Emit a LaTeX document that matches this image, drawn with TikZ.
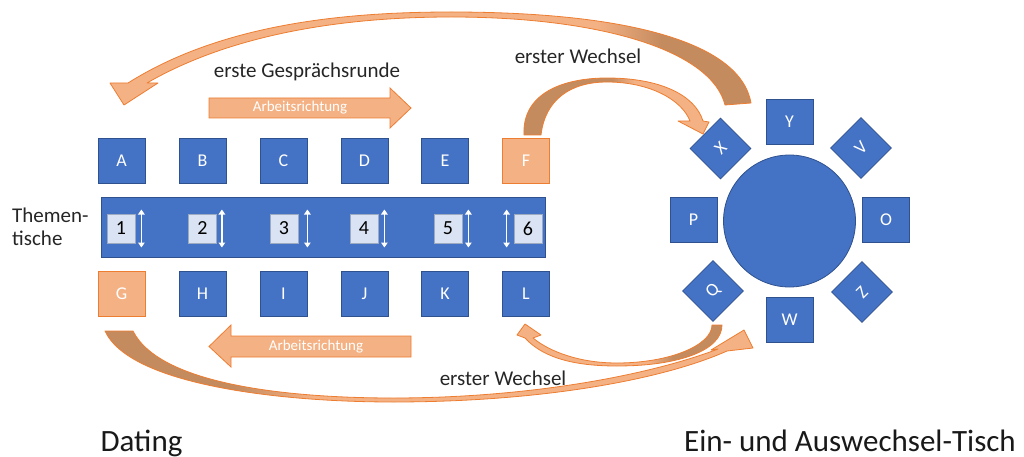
\documentclass[tikz,border=0pt]{standalone}
\usepackage{fontspec}
\setmainfont{Carlito}
\usetikzlibrary{arrows.meta}

\definecolor{seatblue}{HTML}{4472C4}
\definecolor{seatline}{HTML}{2F528F}
\definecolor{peach}{HTML}{F4B183}
\definecolor{peachline}{HTML}{ED7D31}
\definecolor{ribdark}{HTML}{C48B5F}
\definecolor{numfill}{HTML}{DAE3F3}
\definecolor{numline}{HTML}{9DABC0}

% ribbon shadings (the relevant part of each runs from 25bp to 75bp)
\pgfdeclarehorizontalshading{ribTop}{100bp}{color(0bp)=(peach); color(63bp)=(peach); color(68bp)=(ribdark); color(100bp)=(ribdark)}
\pgfdeclarehorizontalshading{ribF}{100bp}{color(0bp)=(ribdark); color(49bp)=(ribdark); color(55bp)=(peach); color(100bp)=(peach)}
\pgfdeclarehorizontalshading{ribQ}{100bp}{color(0bp)=(peach); color(57bp)=(peach); color(63bp)=(ribdark); color(100bp)=(ribdark)}
\pgfdeclarehorizontalshading{ribG}{100bp}{color(0bp)=(ribdark); color(35bp)=(ribdark); color(41bp)=(peach); color(100bp)=(peach)}

\begin{document}
\begin{tikzpicture}[x=1pt,y=-1pt,
  seat/.style={rectangle, draw=seatline, line width=0.8pt, fill=seatblue,
    text=white, font=\fontsize{18}{18}\selectfont, inner sep=0pt,
    minimum width=47pt, minimum height=45pt},
  peachseat/.style={seat, fill=peach, draw=peachline},
  diagseat/.style={seat, minimum width=43pt, minimum height=43pt, rotate=45},
  numbox/.style={rectangle, draw=numline, line width=0.8pt, fill=numfill,
    text=black, font=\fontsize{20}{20}\selectfont, inner sep=0pt,
    minimum width=28pt, minimum height=29pt},
  updown/.style={draw=white, line width=1.6pt,
    {Triangle[width=6.5pt,length=5pt]}-{Triangle[width=6.5pt,length=5pt]}},
  ribbon/.style={draw=peachline, line width=0.8pt, line join=round},
  workarrow/.style={fill=peach, draw=peachline, line width=0.8pt},
  worktext/.style={text=white, font=\fontsize{15}{15}\selectfont, inner sep=0pt},
  lbl/.style={font=\fontsize{21}{24}\selectfont, inner sep=0pt, text=black!85},
  biglbl/.style={font=\fontsize{31}{31}\selectfont, inner sep=0pt, text=black!90}]

\useasboundingbox (0,0) rectangle (1024,457);

% ---- curved change-over arrows ----
% from the round table back to the start of the row
\shadedraw[ribbon, shading=ribTop]
  (128,83) .. controls (220,25) and (340,12) .. (451,12)
  .. controls (620,12) and (740,40) .. (751,103)
  -- (725,105)
  .. controls (712,52) and (605,17) .. (451,17)
  .. controls (340,17) and (230,35) .. (147,83)
  -- (158,83) -- (124,105) -- (110,83) -- cycle;

% from F to the round table
\shadedraw[ribbon, shading=ribF]
  (524,135) .. controls (522,95) and (560,78) .. (607,78)
  .. controls (660,78) and (695,95) .. (703,121)
  -- (709,122) -- (703,134) -- (678,121) -- (690,121)
  .. controls (682,100) and (650,82) .. (607,82)
  .. controls (570,82) and (545,100) .. (541,135) -- cycle;

% from the round table to L
\shadedraw[ribbon, shading=ribQ]
  (722,325) .. controls (722,350) and (680,366) .. (617,366)
  .. controls (580,366) and (545,360) .. (525,338)
  -- (517,335) -- (525,324) -- (541,335) -- (533,338)
  .. controls (550,352) and (580,363) .. (617,363)
  .. controls (670,363) and (712,345) .. (712,325) -- cycle;

% from G to the round table
\shadedraw[ribbon, shading=ribG]
  (105,331) .. controls (130,385) and (280,402) .. (393,402)
  .. controls (540,402) and (662,380) .. (727,351)
  -- (753,348) -- (744,330) -- (711,350) -- (718,349)
  .. controls (650,375) and (530,398) .. (393,398)
  .. controls (290,398) and (160,385) .. (133,331) -- cycle;

% ---- working direction arrows ----
\filldraw[workarrow] (209,98) -- (390,98) -- (390,88) -- (411,108)
  -- (390,128) -- (390,118) -- (209,118) -- cycle;
\node[worktext] (wtop) at (300,108) {Arbeitsrichtung};
\filldraw[workarrow] (411,336) -- (231,336) -- (231,325) -- (209,346.5)
  -- (231,367) -- (231,357) -- (411,357) -- cycle;
\node[worktext] (wbot) at (316,346.5) {Arbeitsrichtung};

% ---- the long table with topic places ----
\node[rectangle, draw=seatline, line width=0.8pt, fill=seatblue, inner sep=0pt,
  minimum width=444pt, minimum height=60pt] (bar) at (323,227) {};

\node[numbox] (n1) at (121,228.5) {1};
\node[numbox] (n2) at (202.5,228.5) {2};
\node[numbox] (n3) at (284,228.5) {3};
\node[numbox] (n4) at (364,228.5) {4};
\node[numbox] (n5) at (448,228.5) {5};
\node[numbox] (n6) at (528,228.5) {6};

\draw[updown] ([xshift=6pt,yshift=19pt]n1.east) -- ([xshift=6pt,yshift=-19pt]n1.east);
\draw[updown] ([xshift=5pt,yshift=19pt]n2.east) -- ([xshift=5pt,yshift=-19pt]n2.east);
\draw[updown] ([xshift=9pt,yshift=19pt]n3.east) -- ([xshift=9pt,yshift=-19pt]n3.east);
\draw[updown] ([xshift=6pt,yshift=19pt]n4.east) -- ([xshift=6pt,yshift=-19pt]n4.east);
\draw[updown] ([xshift=6pt,yshift=19pt]n5.east) -- ([xshift=6pt,yshift=-19pt]n5.east);
\draw[updown] ([xshift=-7pt,yshift=19pt]n6.west) -- ([xshift=-7pt,yshift=-19pt]n6.west);

% ---- seats along the table ----
\node[seat] (A) at (121.5,161) {A};
\node[seat] (B) at (202.5,161) {B};
\node[seat] (C) at (283.5,161) {C};
\node[seat] (D) at (364.5,161) {D};
\node[seat] (E) at (445,161) {E};
\node[peachseat] (F) at (526,161) {F};

\node[peachseat] (G) at (121.5,294) {G};
\node[seat] (H) at (202.5,294) {H};
\node[seat] (I) at (283.5,294) {I};
\node[seat] (J) at (364.5,294) {J};
\node[seat] (K) at (445,294) {K};
\node[seat] (L) at (526,294) {L};

% ---- round table with its seats ----
\node[circle, draw=seatline, line width=0.8pt, fill=seatblue, inner sep=0pt,
  minimum size=132pt] (round) at (789.5,221) {};
\node[seat] (Y) at (789.5,121.5) {Y};
\node[seat] (W) at (789.5,319.5) {W};
\node[seat] (P) at (693.5,220) {P};
\node[seat] (O) at (886,220) {O};
\node[diagseat] (X) at (720.5,148.5) {X};
\node[diagseat] (V) at (861,148) {V};
\node[diagseat] (Q) at (713,291) {Q};
\node[diagseat] (Z) at (862,292) {Z};

% ---- labels ----
\node[lbl, anchor=base] (round1) at (307,78) {erste Gesprächsrunde};
\node[lbl, anchor=base] (change1) at (578,64) {erster Wechsel};
\node[lbl, anchor=base] (change2) at (503,385) {erster Wechsel};
\node[lbl, anchor=base west] (themen) at (12,222) {Themen-};
\node[lbl, anchor=base west] (tische) at (12,245.5) {tische};
\node[biglbl, anchor=base] (dating) at (141.5,451) {Dating};
\node[biglbl, anchor=base] (swap) at (850,451) {Ein- und Auswechsel-Tisch};

\end{tikzpicture}
\end{document}
